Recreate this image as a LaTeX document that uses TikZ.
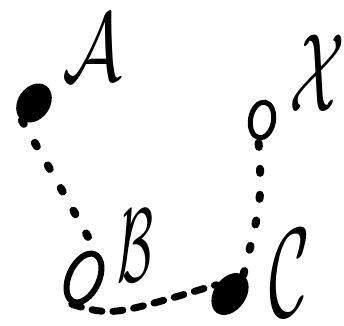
\documentclass[tikz,border=0pt]{standalone}
\usepackage{tikz}
\usetikzlibrary{shapes.geometric}

\begin{document}
\begin{tikzpicture}[
  x=1pt, y=-1pt,
  fdot/.style   = {ellipse, fill=black, inner sep=0pt},
  odot/.style   = {ellipse, draw=black, line width=5pt, inner sep=0pt},
  dotline/.style  = {line width=8pt, line cap=round, dash pattern=on 4pt off 22pt},
  dashline/.style = {line width=7pt, line cap=round, dash pattern=on 10pt off 11pt},
  lbl/.style    = {inner sep=0pt, font=\Huge}
]
\useasboundingbox (0,0) rectangle (344,325);

%% points
\node[fdot, minimum width=32pt, minimum height=42pt, rotate=-35] (A) at (34,103) {};
\node[odot, line width=6pt, minimum width=30pt, minimum height=52pt, rotate=-25] (B) at (84,278) {};
\node[fdot, minimum width=32pt, minimum height=46pt, rotate=-35] (C) at (230,294) {};
\node[odot, minimum width=23pt, minimum height=36pt, rotate=-10] (X) at (262,120) {};

%% labels
\node[lbl, xscale=3.0, yscale=3.9] (lA) at (92,47) {$\mathcal{A}$};
\node[lbl, xscale=2.1, yscale=4.2] (lB) at (135,246) {$\mathcal{B}$};
\node[lbl, xscale=2.8, yscale=5.1] (lC) at (290,273) {$\mathcal{C}$};
\node[lbl, xscale=2.6, yscale=4.5] (lX) at (317,73) {$\mathcal{X}$};

%% connectors
\draw[dotline] (A.south) .. controls (62,190) .. (B.north);
\draw[dashline] (B.south) .. controls (112,316) .. (C.west);
\draw[dotline] (C.north) .. controls (262,200) .. (X.south);

\end{tikzpicture}
\end{document}
